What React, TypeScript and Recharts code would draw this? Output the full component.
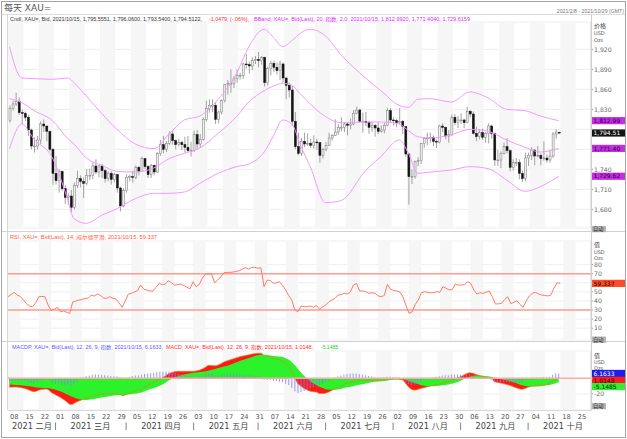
import React from 'react';
import { ComposedChart, Bar, Line, Area, XAxis, YAxis, CartesianGrid, ReferenceArea, ReferenceLine } from 'recharts';

const FONT = "'DejaVu Sans', 'Noto Sans CJK SC', sans-serif";
const TFONT = "'Liberation Sans', 'Noto Sans CJK SC', sans-serif";

// ---- daily OHLC (weekdays from 2021/02/08 to 2021/10/15) ----
const opens = [
  1813,1831,1838,1842,1825, 1824,1818,1799,1775,1775, 1784,1808,1805,1797,1770,
  1734,1723,1737,1711,1698, 1700,1683,1716,1726,1722, 1719,1731,1731,1745,1736,
  1745,1738,1726,1734,1725, 1732,1712,1685,1708,1728, 1729,1728,1743,1737,1756,
  1744,1732,1746,1736,1764, 1777,1770,1779,1793,1783, 1777,1780,1777,1773,1768,
  1768,1792,1778,1785,1815, 1831,1836,1836,1815,1826, 1843,1867,1869,1869,1876,
  1881,1881,1898,1897,1895, 1903,1905,1903,1908,1870, 1891,1899,1893,1888,1898,
  1877,1866,1859,1812,1774, 1764,1782,1778,1779,1776, 1781,1780,1761,1770,1776,
  1787,1791,1796,1803,1803, 1808,1806,1808,1824,1829, 1812,1812,1810,1803,1806,
  1802,1797,1799,1806,1828, 1814,1813,1810,1812,1804, 1763,1729,1729,1752,1753,
  1779,1786,1787,1788,1782, 1781,1805,1803,1790,1792, 1818,1810,1814,1814,1810,
  1827,1823,1794,1789,1795, 1788,1794,1805,1794,1754, 1754,1764,1774,1768,1743,
  1750,1750,1734,1726,1757, 1761,1769,1760,1761,1756, 1757,1754,1760,1793,1795.56,
];
const highs = [
  1836,1843,1855,1848,1830, 1827,1822,1801,1788,1790, 1812,1815,1805,1798,1772,
  1760,1740,1738,1716,1704, 1709,1720,1738,1731,1728, 1740,1741,1750,1755,1747,
  1748,1741,1737,1737,1735, 1733,1714,1712,1732,1732, 1738,1746,1745,1759,1757,
  1746,1748,1747,1766,1784, 1790,1782,1797,1798,1785, 1786,1783,1789,1790,1781,
  1798,1799,1793,1818,1843, 1845,1845,1841,1828,1845, 1868,1874,1890,1880,1890,
  1885,1900,1913,1902,1908, 1910,1916,1910,1909,1894, 1903,1903,1900,1903,1900,
  1878,1870,1865,1826,1795, 1787,1795,1794,1786,1791, 1786,1781,1772,1781,1795,
  1793,1815,1808,1818,1810, 1810,1816,1829,1834,1831, 1825,1826,1813,1812,1808,
  1810,1806,1810,1832,1832, 1818,1816,1832,1814,1805, 1764,1740,1753,1758,1780,
  1788,1795,1795,1791,1785, 1807,1809,1804,1799,1822, 1823,1820,1824,1816,1834,
  1829,1827,1804,1800,1801, 1796,1809,1807,1795,1769, 1767,1780,1787,1770,1755,
  1757,1755,1738,1765,1765, 1773,1770,1775,1764,1782, 1762,1769,1796,1800,1796.06,
];
const lows = [
  1810,1828,1835,1822,1808, 1812,1790,1770,1765,1770, 1778,1796,1782,1767,1717,
  1717,1705,1708,1688,1687, 1676,1680,1712,1713,1697, 1716,1724,1725,1733,1728,
  1727,1720,1722,1717,1720, 1705,1677,1683,1705,1722, 1720,1725,1731,1736,1740,
  1727,1727,1731,1734,1760, 1764,1766,1776,1777,1770, 1774,1769,1765,1766,1759,
  1766,1770,1772,1783,1812, 1825,1826,1808,1809,1822, 1840,1852,1855,1862,1870,
  1875,1876,1891,1884,1889, 1898,1893,1897,1864,1866, 1881,1886,1882,1874,1870,
  1845,1848,1805,1770,1761, 1760,1773,1775,1772,1771, 1769,1750,1756,1767,1775,
  1783,1790,1792,1797,1796, 1791,1800,1806,1823,1810, 1795,1805,1793,1796,1789,
  1793,1795,1794,1805,1810, 1806,1803,1807,1793,1759, 1687,1718,1726,1745,1748,
  1772,1776,1780,1775,1772, 1779,1796,1785,1780,1790, 1806,1802,1808,1802,1809,
  1818,1792,1782,1785,1784, 1780,1779,1786,1745,1745, 1742,1762,1764,1737,1738,
  1745,1725,1721,1722,1745, 1754,1746,1758,1746,1753, 1750,1750,1757,1786,1793.54,
];
const closes = [
  1831,1838,1842,1825,1824, 1818,1799,1775,1775,1784, 1808,1805,1797,1770,1734,
  1723,1737,1711,1698,1700, 1683,1716,1726,1722,1719, 1731,1731,1745,1736,1745,
  1738,1726,1734,1725,1732, 1712,1685,1708,1728,1729, 1728,1743,1737,1756,1744,
  1732,1746,1736,1764,1777, 1770,1779,1793,1783,1777, 1780,1777,1773,1768,1768,
  1792,1778,1785,1815,1831, 1836,1836,1815,1826,1843, 1867,1869,1869,1876,1881,
  1881,1898,1897,1895,1903, 1905,1903,1908,1870,1891, 1899,1893,1888,1898,1877,
  1866,1859,1812,1774,1764, 1782,1778,1779,1776,1781, 1780,1761,1770,1776,1787,
  1791,1796,1803,1803,1808, 1806,1808,1824,1829,1812, 1812,1810,1803,1806,1802,
  1797,1799,1806,1828,1814, 1813,1810,1812,1804,1763, 1729,1729,1752,1753,1779,
  1786,1787,1788,1782,1781, 1805,1803,1790,1792,1818, 1810,1814,1814,1810,1827,
  1823,1794,1789,1795,1788, 1794,1805,1794,1754,1754, 1764,1774,1768,1743,1750,
  1750,1734,1726,1757,1761, 1769,1760,1761,1756,1757, 1754,1760,1793,1796,1794.51,
];

// ---- Bollinger bands (sampled at bar indices) ----
const bandIdx = [0,4,8,14,19,21,25,30,35,41,47,52,57,62,68,74,78,83,86,89,92,95,98,103,108,116,121,127,130,133,137,144,150,156,162,168,173,179];
const bandUpper = [1924,1877,1876,1875,1877,1870,1850,1824,1800,1778,1771,1793,1814,1820,1845,1884,1924,1950,1938,1924,1933,1945,1950,1940,1912,1877,1858,1836,1833,1845,1846,1841,1856,1847,1830,1828,1820,1813];
const bandMiddle = [1846,1840,1828,1813,1786,1778,1757,1746,1737,1736,1742,1756,1764,1772,1794,1819,1841,1858,1865,1869,1866,1852,1838,1819,1810,1811,1811,1808,1798,1789,1787,1792,1800,1797,1784,1773,1766,1771.4];
const bandLower = [1771,1808,1785,1757,1694,1666,1659,1671,1681,1696,1704,1704,1706,1719,1734,1744,1748,1766,1790,1814,1808,1774,1744,1690,1693,1738,1759,1784,1764,1734,1736,1739,1744,1741,1724,1707,1714,1729.6];

// ---- RSI(14) daily ----
const rsiValues = [
  44.7,47,49.5,46.5,45, 41,37,34.4,33.7,38, 44.7,45,44.5,35.5,29.3,
  31,33,28,29,27.5, 26.3,39,40,41,41.5, 42.8,43,46.5,45.4,47.6,
  46,43,42.8,44.7,42.8, 42,38,33,40,47.6, 48.4,50,51.3,57.5,53,
  52,51,51,55,59.4, 58,58.6,62.3,60,57.5, 58,58.6,57,55,53.5,
  61.2,55.7,58,64.9,69.6, 69.6,69.6,60,63,66.7, 71,71.5,71.5,71.8,72.5,
  73.3,75,76.6,75,77, 77,76,76.5,55.7,63, 62.5,59.4,60,61.2,57,
  52,46,41,30,28.2, 34.4,33.7,33.7,34.4,33, 35,30.7,33.5,35.5,39,
  41,42.8,46.5,47,48.4, 47.5,50.2,57.5,59.4,51, 51,50.2,48.4,49,48.4,
  45.5,44.7,46,58.3,53, 51.5,51,50,44.7,35.5, 26.3,28,36,41,49,
  50,49.5,49,49,50.2, 49.5,55.7,54,52,52.5, 58.6,57.5,57.5,58,61.2,
  59.5,52,47.6,49,48.4, 49.5,51,44.7,36.6,36.8, 37.3,41.5,44.7,37,38.5,
  40.3,36,33,40,45.4, 48.4,49.5,47.6,46.5,46, 45.5,46.5,54,60,59.34,
];

// ---- MACD(12,26,9) ----
const macdIdx = [0,2,5,8,10,12,14,15,18,20,22,25,28,30,33,35,37,38,40,43,45,48,50,52,53,55,57,60,62,64,65,67,68,70,73,75,78,80,82,83,85,87,89,90,91,92,93,94,95,96,97,98,99,100,101,102,103,104,105,106,108,110,112,113,115,118,120,123,125,128,129,130,132,134,136,138,140,143,145,147,150,152,155,157,158,160,163,165,167,169,170,173,175,177,179];
const macdValues = [-11.5,-11,-13,-17,-14.5,-13.5,-19,-21,-28,-33.5,-30,-25,-21,-20,-19.5,-19,-22,-20.5,-17,-13,-9,-3,1,6,7.5,9,9,9,10.5,14.5,16.5,16,17,21,25,27.5,30,31.5,32,28.5,27,24.5,22,18.5,15,8,0,-7,-10,-13,-15,-16.5,-17,-17.5,-19.5,-19.5,-19,-17.5,-15.5,-13.5,-10,-6,-5,-3,-2.5,-2.5,-3,-1,-0.5,-2,-6,-11,-15,-13,-11,-9,-7.5,-4,-1,2,7,5,1.5,0,-4,-6,-9,-12,-14,-11.5,-10,-9,-8,-3,1.0148];
const signalValues = [-8,-8.5,-9.5,-11,-12,-12.5,-13.5,-14.5,-19,-23,-26,-27.5,-26,-24.5,-22.5,-21.5,-21.2,-21,-20,-18,-15,-11,-7.5,-2.5,-0.5,3,5,7,8,9,10,12,13,15,19,22,26,28.5,30,29.9,29,28,27,25.5,23.5,20.5,16.5,11.8,7.4,3.3,-0.4,-3.6,-6.3,-8.5,-10.7,-12.5,-13.8,-14.5,-14.7,-14.5,-13.5,-11.5,-10,-9,-7.5,-5,-4,-3,-2,-1.5,-2,-3.5,-6,-8.5,-10,-10,-9.5,-8,-6,-3,2,3.5,3,2,1,-1,-3.5,-6,-9,-10.5,-10.5,-10,-9,-7.5,-5.1485];
const histValues = [
  -3.5,-3,-2.5,-3,-3, -3.5,-4.5,-6,-6,-5, -3,-1.5,-1,-2.5,-5.5,
  -6.5,-6,-8,-9,-8.5, -10.5,-7,-4,-1.5,1, 2.5,3.5,4.5,5,5,
  4.5,4,3.5,3,2.5, 2.5,1.2,-0.8,0.5,1.5, 3,3.5,4,5,5.5,
  6,6.5,7,8,8.5, 8.5,8.5,8.5,8,7, 6,5,4,3,2.5,
  2,1.5,2.5,4,5.5, 6.5,5.5,4,4,5, 6,6,6,6,6,
  5.5,5,4.5,4,3.5, 3,2.5,2,-1.4,-1.9, -2,-3,-3.5,-4.5,-5,
  -7,-8.5,-12.5,-16.5,-18.8, -17.4,-16.3,-14.6,-12.9,-10.7, -9,-8.8,-7,-5.2,-3,
  -0.8,1,2.5,3.5,4.5, 5.5,6,6,6,5.5, 5,4,3,2.5,1.5,
  1,1,1.5,2,2, 1.5,1.2,1,-0.5,-4, -7.5,-8.5,-8,-6.5,-4,
  -2,-1,0.5,1,2, 2.5,3.5,4,4,5, 5,5,5,4.5,5,
  5,3,1.5,1,0, -1,-1,-2,-5,-5.5, -5,-4.5,-4.5,-5.5,-5.5,
  -6,-6,-5,-2,-1, 0.5,0.5,1,1,1.5, 1,1.5,4.5,6,6.16,
];

// ---- axis labels ----
const SLOTS = 190; // weekdays 2021/02/08 .. 2021/10/29
const weekLabels = ['08','15','22','01','08','15','22','29','05','12','19','26','03','10','17','24','31','07','14','21','28','05','12','19','26','02','09','16','23','30','06','13','20','27','04','11','18','25'];
const weekTickIdx = weekLabels.map((_, w) => w * 5);
const monthLabels = ['2021 二月','2021 三月','2021 四月','2021 五月','2021 六月','2021 七月','2021 八月','2021 九月','2021 十月'];
const monthStartIdx = [0, 15, 38, 60, 81, 103, 125, 147, 169];
const priceTicks = [1680, 1710, 1740, 1770, 1800, 1830, 1860, 1890, 1920];
const rsiTicks = [10, 20, 30, 40, 50, 60, 70, 80];
const macdTicks = [-20, 0];
const stripeWeeks = weekLabels.map((_, w) => w).filter((w) => w % 2 === 0);

const data = Array.from({ length: SLOTS }, (_, i) => {
  const has = i < closes.length;
  const b = bandIdx.indexOf(i);
  const m = macdIdx.indexOf(i);
  return {
    i,
    o: has ? opens[i] : null,
    c: has ? closes[i] : null,
    hl: has ? [lows[i], highs[i]] : null,
    bbUp: b >= 0 ? bandUpper[b] : null,
    bbMid: b >= 0 ? bandMiddle[b] : null,
    bbLow: b >= 0 ? bandLower[b] : null,
    rsi: has ? rsiValues[i] : null,
    macd: m >= 0 ? macdValues[m] : null,
    signal: m >= 0 ? signalValues[m] : null,
    hist: has ? histValues[i] : null,
  };
});

const W = 627;
const XA = 'x0'; // main (week) axis
const XM = 'x1'; // month axis

const Candle = (props: any) => {
  const { x, y, width, height, payload } = props;
  if (!payload || !payload.hl) return <g />;
  const [lo, hi] = payload.hl;
  const top = Math.min(y, y + height);
  const h = Math.abs(height);
  const k = hi === lo ? 0 : h / (hi - lo);
  const yO = top + (hi - payload.o) * k;
  const yC = top + (hi - payload.c) * k;
  const cx = x + width / 2;
  const up = payload.c >= payload.o;
  const bt = Math.min(yO, yC);
  const bh = Math.max(Math.abs(yC - yO), 0.8);
  return (
    <g>
      <line x1={cx} x2={cx} y1={top} y2={top + h} stroke="#8c8c8c" strokeWidth={0.8} />
      <rect x={x} y={bt} width={width} height={bh} fill={up ? '#f0f0f0' : '#141414'} stroke={up ? '#7a7a7a' : '#141414'} strokeWidth={0.5} />
    </g>
  );
};

const makeYTick = (fmt: (v: number) => string, hidden: number[]) => (p: any) => {
  const v = p.payload.value;
  if (hidden.includes(v)) return <g />;
  return (
    <text x={p.x} y={p.y + 2.2} fontSize={6.2} fill="#6a6a6a" fontFamily={FONT}>
      {fmt(v)}
    </text>
  );
};

const badge = (text: string, bg: string, fg: string, dy = 0) => (p: any) => {
  const vb = p.viewBox || { x: 0, y: 0, width: 0 };
  const bx = vb.x + vb.width + 1;
  const cy = vb.y + dy;
  return (
    <g>
      <rect x={bx} y={cy - 3.6} width={33} height={7.2} fill={bg} />
      <text x={bx + 1.5} y={cy + 2.2} fontSize={6} fill={fg} fontFamily={FONT}>{text}</text>
    </g>
  );
};

const stripes = () =>
  stripeWeeks.map((w) => (
    <ReferenceArea key={'s' + w} xAxisId={XA} yAxisId="v" x1={w * 5} x2={w * 5 + 4} fill="#f6f6f6" fillOpacity={1} stroke="none" ifOverflow="visible" />
  ));

const WeekTick = (p: any) => {
  const idx = weekTickIdx.indexOf(p.payload.value);
  return (
    <text x={p.x + 0.5} y={p.y + 8.6} fontSize={6.6} fill="#555" fontFamily={FONT}>
      {idx >= 0 ? weekLabels[idx] : ''}
    </text>
  );
};

const MonthTick = (p: any) => {
  const idx = monthStartIdx.indexOf(p.payload.value);
  if (idx < 0) return <g />;
  const first = idx === 0;
  return (
    <g>
      {!first && <line x1={p.x} x2={p.x} y1={p.y + 0.5} y2={p.y + 8} stroke="#666" strokeWidth={0.8} />}
      <text x={first ? p.x + 2.5 : p.x + 15} y={p.y + 7.4} fontSize={8.2} fill="#444" fontFamily={FONT}>
        {monthLabels[idx]}
      </text>
    </g>
  );
};

const fmtPrice = (v: number) => v.toLocaleString('en-US');
const fmtNum = (v: number) => String(v);

const PriceChart = () => (
  <ComposedChart width={W} height={232} data={data} margin={{ top: 22, right: 2, bottom: 4, left: 8 }}>
    <CartesianGrid xAxisId={XA} yAxisId="v" vertical={false} stroke="#ededed" />
    {stripes()}
    <XAxis xAxisId={XA} dataKey="i" hide />
    <YAxis yAxisId="v" orientation="right" width={34} domain={[1652, 1961]} allowDataOverflow ticks={priceTicks} interval={0}
      tick={makeYTick(fmtPrice, [1770, 1800])} tickSize={2} tickMargin={1} tickLine={{ stroke: '#999' }} axisLine={{ stroke: '#cfcfcf' }} />
    <Line xAxisId={XA} yAxisId="v" dataKey="bbUp" type="monotone" connectNulls stroke="#f29aff" strokeWidth={1} dot={false} activeDot={false} isAnimationActive={false} />
    <Line xAxisId={XA} yAxisId="v" dataKey="bbMid" type="monotone" connectNulls stroke="#f29aff" strokeWidth={1} dot={false} activeDot={false} isAnimationActive={false} />
    <Line xAxisId={XA} yAxisId="v" dataKey="bbLow" type="monotone" connectNulls stroke="#f29aff" strokeWidth={1} dot={false} activeDot={false} isAnimationActive={false} />
    <Bar xAxisId={XA} yAxisId="v" dataKey="hl" barSize={2} shape={Candle} isAnimationActive={false} />
    <ReferenceLine xAxisId={XA} yAxisId="v" y={1812.992} stroke="none" label={badge('1,812.99', '#c42ee6', '#2b0033')} />
    <ReferenceLine xAxisId={XA} yAxisId="v" y={1794.5122} stroke="none" label={badge('1,794.51', '#151515', '#ffffff')} />
    <ReferenceLine xAxisId={XA} yAxisId="v" y={1771.404} stroke="none" label={badge('1,771.40', '#c42ee6', '#2b0033')} />
    <ReferenceLine xAxisId={XA} yAxisId="v" y={1729.6159} stroke="none" label={badge('1,729.62', '#c42ee6', '#2b0033')} />
  </ComposedChart>
);

const RsiChart = () => (
  <ComposedChart width={W} height={110} data={data} margin={{ top: 9, right: 2, bottom: 2, left: 8 }}>
    <CartesianGrid xAxisId={XA} yAxisId="v" vertical={false} stroke="#efefef" />
    {stripes()}
    <XAxis xAxisId={XA} dataKey="i" hide />
    <YAxis yAxisId="v" orientation="right" width={34} domain={[-3, 106]} allowDataOverflow ticks={rsiTicks} interval={0}
      tick={makeYTick(fmtNum, [60])} tickSize={2} tickMargin={1} tickLine={{ stroke: '#999' }} axisLine={{ stroke: '#cfcfcf' }} />
    <ReferenceLine xAxisId={XA} yAxisId="v" y={70} stroke="#ff9c8c" strokeWidth={1.4} />
    <ReferenceLine xAxisId={XA} yAxisId="v" y={30} stroke="#ff9c8c" strokeWidth={1.4} />
    <Line xAxisId={XA} yAxisId="v" dataKey="rsi" type="linear" stroke="#ff7a66" strokeWidth={1} dot={false} activeDot={false} isAnimationActive={false} />
    <ReferenceLine xAxisId={XA} yAxisId="v" y={59.337} stroke="none" label={badge('59.337', '#ff4a26', '#1a0000')} />
  </ComposedChart>
);

const MacdChart = () => (
  <ComposedChart width={W} height={97} data={data} margin={{ top: 9, right: 2, bottom: 2, left: 8 }}>
    <CartesianGrid xAxisId={XA} yAxisId="v" vertical={false} stroke="#efefef" />
    {stripes()}
    <XAxis xAxisId={XA} dataKey="i" ticks={weekTickIdx} interval={0} tick={WeekTick} height={12} axisLine={false} tickLine={false} tickSize={0} tickMargin={0} />
    <XAxis xAxisId={XM} dataKey="i" ticks={monthStartIdx} interval={0} tick={MonthTick} height={15} axisLine={false} tickLine={false} tickSize={0} tickMargin={0} />
    <YAxis yAxisId="v" orientation="right" width={34} domain={[-40.4, 34.8]} allowDataOverflow ticks={macdTicks} interval={0}
      tick={makeYTick(fmtNum, [0])} tickSize={2} tickMargin={1} tickLine={{ stroke: '#999' }} axisLine={{ stroke: '#cfcfcf' }} />
    <Area xAxisId={XA} yAxisId="v" dataKey="macd" type="monotone" connectNulls baseValue={0} fill="#ff1a1a" fillOpacity={1} stroke="none" dot={false} activeDot={false} isAnimationActive={false} />
    <Area xAxisId={XA} yAxisId="v" dataKey="signal" type="monotone" connectNulls baseValue={0} fill="#2cf22c" fillOpacity={1} stroke="none" dot={false} activeDot={false} isAnimationActive={false} />
    <Bar xAxisId={XA} yAxisId="v" dataKey="hist" barSize={1} fill="#8080ff" fillOpacity={0.8} isAnimationActive={false} />
    <Line xAxisId={XA} yAxisId="v" dataKey="macd" type="monotone" connectNulls stroke="#e2841c" strokeWidth={0.7} dot={false} activeDot={false} isAnimationActive={false} />
    <ReferenceLine xAxisId={XA} yAxisId="v" y={0} stroke="#ffa8a8" strokeWidth={1.4} />
    <ReferenceLine xAxisId={XA} yAxisId="v" y={6.1633} stroke="none" label={badge('6.1633', '#1c1cf0', '#ffffff', 0)} />
    <ReferenceLine xAxisId={XA} yAxisId="v" y={1.0148} stroke="none" label={badge('1.0148', '#ff1c1c', '#220000', 2.8)} />
    <ReferenceLine xAxisId={XA} yAxisId="v" y={-5.1485} stroke="none" label={badge('-5.1485', '#33ee33', '#002200', 4.2)} />
  </ComposedChart>
);

const Overlay = () => (
  <svg width={W} height={439} style={{ position: 'absolute', left: 0, top: 0, pointerEvents: 'none' }} fontFamily={FONT}>
    <rect x={1.5} y={1.5} width={624} height={436} fill="none" stroke="#a4a4a4" />
    <line x1={2} x2={625} y1={14.5} y2={14.5} stroke="#dcdcdc" />
    <line x1={2} x2={625} y1={231.5} y2={231.5} stroke="#d2d2d2" />
    <line x1={2} x2={625} y1={341.5} y2={341.5} stroke="#d2d2d2" />
    <line x1={7.5} x2={7.5} y1={14.5} y2={410.5} stroke="#d8d8d8" />
    <line x1={8} x2={591} y1={410.5} y2={410.5} stroke="#d8d8d8" />
    <line x1={591.5} x2={591.5} y1={14.5} y2={410.5} stroke="#cfcfcf" />

    <text x={4} y={10.5} fontSize={9} fill="#555">每天 XAU=</text>
    <text x={624} y={12.5} textAnchor="end" fontSize={5.2} fill="#777" fontFamily={TFONT}>2021/2/8 - 2021/10/29 (GMT)</text>

    <g fontFamily={TFONT} fontSize={5}>
      <text x={10} y={20.8} fill="#333" textLength={192} lengthAdjust="spacingAndGlyphs">Cndl, XAU=, Bid, 2021/10/15, 1,795.5551, 1,796.0600, 1,793.5400, 1,794.5122,</text>
      <text x={209} y={20.8} fill="#ff2a2a" textLength={40} lengthAdjust="spacingAndGlyphs">-1.0479, (-.06%),</text>
      <text x={254} y={20.8} fill="#d92cf5" textLength={216} lengthAdjust="spacingAndGlyphs">BBand, XAU=, Bid(Last), 20, 指数, 2.0, 2021/10/15, 1,812.9920, 1,771.4040, 1,729.6159</text>

      <text x={10} y={239.2} fill="#ff5a3c" textLength={147} lengthAdjust="spacingAndGlyphs">RSI, XAU=, Bid(Last), 14, 威尔德平滑, 2021/10/15, 59.337</text>

      <text x={12} y={348.8} fill="#5a5aff" textLength={151} lengthAdjust="spacingAndGlyphs">MACDP, XAU=, Bid(Last), 12, 26, 9, 指数, 2021/10/15, 6.1633,</text>
      <text x={166} y={348.8} fill="#ff2a2a" textLength={147} lengthAdjust="spacingAndGlyphs">MACD, XAU=, Bid(Last), 12, 26, 9, 指数, 2021/10/15, 1.0148,</text>
      <text x={321} y={348.8} fill="#22cc22" textLength={17} lengthAdjust="spacingAndGlyphs">-5.1485</text>
    </g>

    <text x={594} y={28} fontSize={6} fill="#444">价格</text>
    <text x={594} y={35} fontSize={5} fill="#555">USD</text>
    <text x={594} y={41.5} fontSize={5} fill="#555">Ozs</text>

    <text x={594} y={247} fontSize={6} fill="#444">值</text>
    <text x={594} y={253.5} fontSize={5} fill="#555">USD</text>
    <text x={594} y={259.5} fontSize={5} fill="#555">Ozs</text>

    <text x={594} y={357.5} fontSize={6} fill="#444">值</text>
    <text x={594} y={364} fontSize={5} fill="#555">USD</text>
    <text x={594} y={369.8} fontSize={5} fill="#555">Ozs</text>

    {[226, 336.5, 403].map((yy) => (
      <g key={yy}>
        <rect x={592} y={yy} width={14} height={6.2} fill="#b4b4b4" />
        <text x={593} y={yy + 5} fontSize={5.2} fill="#222">自动</text>
      </g>
    ))}
  </svg>
);

export default function App() {
  return (
    <div style={{ position: 'absolute', left: 0, top: 0, width: W, height: 439, background: '#fff', fontFamily: FONT, overflow: 'hidden' }}>
      <div style={{ position: 'absolute', left: 0, top: 0 }}><PriceChart /></div>
      <div style={{ position: 'absolute', left: 0, top: 232 }}><RsiChart /></div>
      <div style={{ position: 'absolute', left: 0, top: 342 }}><MacdChart /></div>
      <Overlay />
    </div>
  );
}
